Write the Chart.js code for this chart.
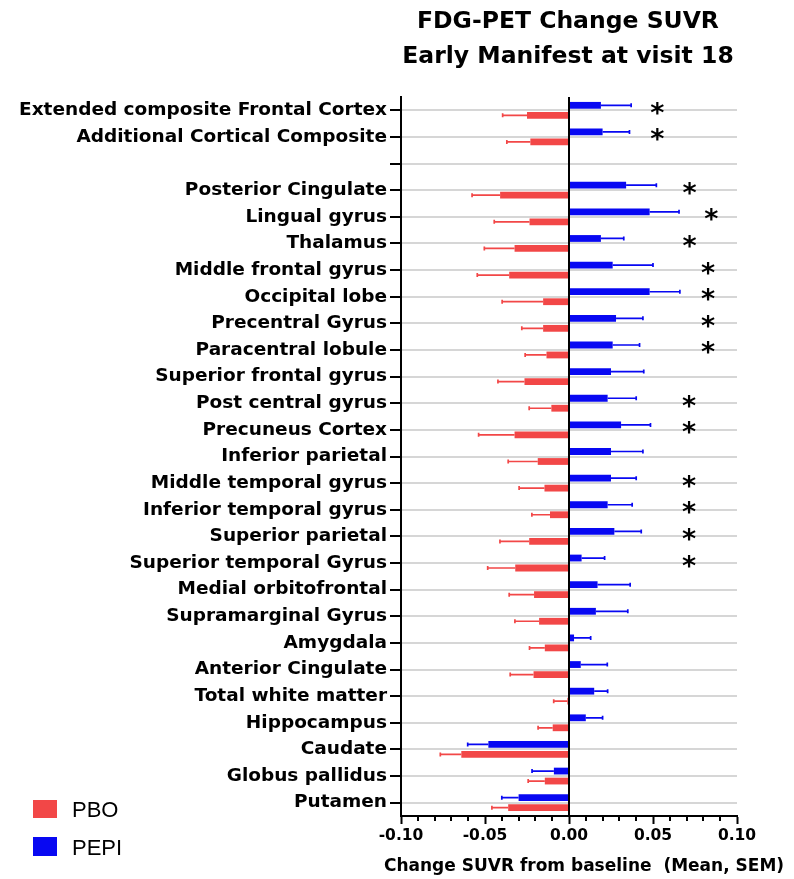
<!DOCTYPE html>
<html>
<head>
<meta charset="utf-8">
<script src="https://cdn.jsdelivr.net/npm/chart.js@4.4.1/dist/chart.umd.min.js"></script>
<style>
  body { margin: 0; background: #fff; }
  canvas { display: block; }
</style>
</head>
<body>
<canvas id="chart" width="794" height="879"></canvas>
<script>
const regions = [
  'Extended composite Frontal Cortex', 'Additional Cortical Composite', '',
  'Posterior Cingulate', 'Lingual gyrus', 'Thalamus', 'Middle frontal gyrus',
  'Occipital lobe', 'Precentral Gyrus', 'Paracentral lobule', 'Superior frontal gyrus',
  'Post central gyrus', 'Precuneus Cortex', 'Inferior parietal', 'Middle temporal gyrus',
  'Inferior temporal gyrus', 'Superior parietal', 'Superior temporal Gyrus',
  'Medial orbitofrontal', 'Supramarginal Gyrus', 'Amygdala', 'Anterior Cingulate',
  'Total white matter', 'Hippocampus', 'Caudate', 'Globus pallidus', 'Putamen'
]

// mean change in SUVR
const pepiMean = [0.019, 0.020, null, 0.034, 0.048, 0.019, 0.026, 0.048, 0.028, 0.026, 0.025,
  0.023, 0.031, 0.025, 0.025, 0.023, 0.027, 0.0075, 0.017, 0.016, 0.003, 0.007, 0.015, 0.010,
  -0.048, -0.009, -0.030]
const pepiSem = [0.018, 0.016, null, 0.018, 0.0175, 0.0136, 0.024, 0.018, 0.016, 0.016, 0.0195,
  0.017, 0.0175, 0.019, 0.015, 0.0146, 0.016, 0.0137, 0.0194, 0.019, 0.0099, 0.0158, 0.008, 0.010,
  0.0123, 0.013, 0.010]
const pboMean = [-0.025, -0.023, null, -0.041, -0.0235, -0.0324, -0.0356, -0.0154, -0.0154, -0.0134,
  -0.0265, -0.0105, -0.0324, -0.0186, -0.0146, -0.0113, -0.0237, -0.032, -0.0208, -0.0178, -0.0144,
  -0.0211, -0.001, -0.0097, -0.0641, -0.0144, -0.0362]
const pboSem = [0.0145, 0.014, null, 0.0167, 0.021, 0.018, 0.019, 0.0244, 0.0127, 0.0127, 0.0158,
  0.0132, 0.0214, 0.0176, 0.0151, 0.0108, 0.0174, 0.0164, 0.0148, 0.0144, 0.0091, 0.0139, 0.0081,
  0.0087, 0.0125, 0.0099, 0.0097]
// where the significance asterisk sits on the x axis (null = not significant)
const starAt = [0.0525, 0.0525, null, 0.0718, 0.0847, 0.0718, 0.0827, 0.0827, 0.0827, 0.0827, null,
  0.0714, 0.0714, null, 0.0714, 0.0714, 0.0714, 0.0714, null, null, null, null, null, null,
  null, null, null]

const RED = '#f24747'
const BLUE = '#0808f2'
const BOLD = "'DejaVu Sans'"

const isMajor = v => Math.round(v * 100) % 5 === 0

const errorBars = {
  id: 'errorBars',
  afterDatasetsDraw(chart) {
    const ctx = chart.ctx
    const x = chart.scales.x
    const sems = [pepiSem, pboSem]
    chart.data.datasets.forEach((ds, di) => {
      const meta = chart.getDatasetMeta(di)
      ctx.save()
      ctx.strokeStyle = ds.backgroundColor
      ctx.lineWidth = 1.7
      meta.data.forEach((bar, i) => {
        const m = ds.data[i]
        if (m === null) return
        const end = m + (m < 0 ? -1 : 1) * sems[di][i]
        const px = x.getPixelForValue(end)
        ctx.beginPath()
        ctx.moveTo(bar.x, bar.y)
        ctx.lineTo(px, bar.y)
        ctx.moveTo(px, bar.y - 2)
        ctx.lineTo(px, bar.y + 2)
        ctx.stroke()
      })
      ctx.restore()
    })
    // zero line
    const zx = x.getPixelForValue(0)
    ctx.save()
    ctx.strokeStyle = '#000'
    ctx.lineWidth = 2
    ctx.beginPath()
    ctx.moveTo(zx, chart.chartArea.top)
    ctx.lineTo(zx, chart.chartArea.bottom)
    ctx.stroke()
    ctx.restore()
  }
}

const decorations = {
  id: 'decorations',
  afterDraw(chart) {
    const ctx = chart.ctx
    const x = chart.scales.x
    const y = chart.scales.y
    ctx.save()
    // minor ticks, shorter than the major ones
    ctx.strokeStyle = '#000'
    ctx.lineWidth = 2
    x.ticks.forEach(t => {
      if (isMajor(t.value)) return
      const px = Math.round(x.getPixelForValue(t.value))
      ctx.beginPath()
      ctx.moveTo(px, x.top)
      ctx.lineTo(px, x.top + 5)
      ctx.stroke()
    })
    ctx.fillStyle = '#000'
    // asterisks
    ctx.font = 'bold 27px ' + BOLD
    ctx.textAlign = 'center'
    ctx.textBaseline = 'alphabetic'
    const mt = ctx.measureText('*')
    const mid = (mt.actualBoundingBoxAscent - mt.actualBoundingBoxDescent) / 2
    starAt.forEach((v, i) => {
      if (v === null) return
      ctx.fillText('*', x.getPixelForValue(v), y.getPixelForValue(i) - 2 + mid)
    })
    // title
    ctx.font = 'bold 23.5px ' + BOLD
    ctx.fillText('FDG-PET Change SUVR', 568, 28)
    ctx.fillText('Early Manifest at visit 18', 568, 63)
    // axis title
    ctx.font = 'bold 17px ' + BOLD
    ctx.fillText('Change SUVR from baseline  (Mean, SEM)', 584, 871)
    // legend
    ctx.textAlign = 'left'
    ctx.font = "22px 'Liberation Sans'"
    ctx.fillStyle = RED
    ctx.fillRect(33, 800, 24, 18)
    ctx.fillStyle = BLUE
    ctx.fillRect(33, 837, 24, 19)
    ctx.fillStyle = '#000'
    ctx.fillText('PBO', 72, 817)
    ctx.fillText('PEPI', 72, 855)
    ctx.restore()
  }
}

new Chart(document.getElementById('chart'), {
  type: 'bar',
  data: {
    labels: regions,
    datasets: [
      { label: 'PEPI', data: pepiMean, backgroundColor: BLUE },
      { label: 'PBO', data: pboMean, backgroundColor: RED }
    ]
  },
  options: {
    indexAxis: 'y',
    responsive: false,
    animation: false,
    devicePixelRatio: 1,
    categoryPercentage: 0.75,
    barPercentage: 0.68,
    layout: { padding: { top: 97, right: 57, bottom: 0, left: 0 } },
    plugins: { legend: { display: false }, tooltip: { enabled: false } },
    scales: {
      x: {
        min: -0.1,
        max: 0.1,
        afterFit(s) { s.height = 63 },
        border: { display: true, color: '#000', width: 2 },
        grid: {
          drawOnChartArea: false,
          tickLength: 8,
          tickColor: c => c.tick && isMajor(c.tick.value) ? '#000' : 'rgba(0,0,0,0)',
          tickWidth: 2
        },
        ticks: {
          stepSize: 0.01,
          autoSkip: false,
          maxRotation: 0,
          padding: 3,
          color: '#000',
          font: { family: BOLD, size: 15.5, weight: 'bold' },
          callback: v => isMajor(v) ? v.toFixed(2) : ''
        }
      },
      y: {
        afterFit(s) { s.width = 401 },
        border: { display: true, color: '#000', width: 2 },
        grid: { offset: false, color: '#d6d6d6', lineWidth: 2, tickLength: 11, tickColor: '#000', tickWidth: 2 },
        ticks: {
          autoSkip: false,
          padding: 3,
          color: '#000',
          font: { family: BOLD, size: 18.5, weight: 'bold' }
        }
      }
    }
  },
  plugins: [errorBars, decorations]
})
</script>
</body>
</html>
